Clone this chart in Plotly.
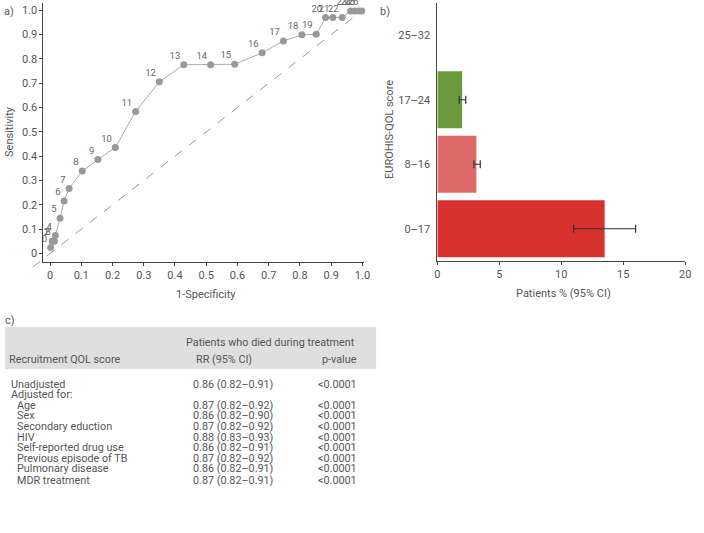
import plotly.graph_objects as go

# ---------------- data ----------------
roc_labels = [str(i) for i in range(27)]
roc_fpr = [0.002, 0.007, 0.009, 0.014, 0.017, 0.032, 0.045, 0.061, 0.103, 0.153,
           0.209, 0.274, 0.350, 0.428, 0.514, 0.591, 0.679, 0.747, 0.806, 0.852,
           0.882, 0.905, 0.935, 0.962, 0.975, 0.987, 0.998]
roc_tpr = [0.025, 0.050, 0.050, 0.050, 0.074, 0.145, 0.216, 0.267, 0.339, 0.386,
           0.436, 0.584, 0.706, 0.776, 0.776, 0.778, 0.825, 0.874, 0.899, 0.901,
           0.970, 0.970, 0.970, 0.997, 0.997, 0.997, 0.997]
roc_ticks = [0, 0.1, 0.2, 0.3, 0.4, 0.5, 0.6, 0.7, 0.8, 0.9, 1.0]
roc_ticktext = ["0", "0.1", "0.2", "0.3", "0.4", "0.5", "0.6", "0.7", "0.8", "0.9", "1.0"]

bar_categories = ["0\u201317", "8\u201316", "17\u201324", "25\u201332"]
bar_values = [13.5, 3.15, 2.0, None]
bar_ci_low = [11.0, 2.95, 1.76, None]
bar_ci_high = [16.0, 3.46, 2.29, None]
bar_colors = ["#d83230", "#de6a68", "#6b9a3c", "#cccccc"]
bar_ticks = [0, 5, 10, 15, 20]

table_header_group = "Patients who died during treatment"
table_headers = ["Recruitment QOL score", "RR (95% CI)", "p-value"]
table_rows = ["Unadjusted", "Adjusted for:", "Age", "Sex", "Secondary eduction", "HIV",
              "Self-reported drug use", "Previous episode of TB", "Pulmonary disease",
              "MDR treatment"]
table_indent = [False, False, True, True, True, True, True, True, True, True]
table_rr = ["0.86 (0.82\u20130.91)", "", "0.87 (0.82\u20130.92)", "0.86 (0.82\u20130.90)",
            "0.87 (0.82\u20130.92)", "0.88 (0.83\u20130.93)", "0.86 (0.82\u20130.91)",
            "0.87 (0.82\u20130.92)", "0.86 (0.82\u20130.91)", "0.87 (0.82\u20130.91)"]
table_p = ["<0.0001", "", "<0.0001", "<0.0001", "<0.0001", "<0.0001", "<0.0001",
           "<0.0001", "<0.0001", "<0.0001"]

# ---------------- layout helpers ----------------
W, H = 704, 533
FONT = "Roboto"
TXT = "#555555"
AXC = "#444444"


def px(x):
    return x / W


def py(y):
    return 1 - y / H


roc_xdom_px = (41, 366)
roc_ydom_px = (262, 3)
roc_xr = [-0.021, 1.006]
roc_yr = [-0.035, 1.03]

bar_xdom_px = (440, 691)
bar_ydom_px = (261, 3)


def roc_to_paper(xv, yv):
    fx = (xv - roc_xr[0]) / (roc_xr[1] - roc_xr[0])
    fy = (yv - roc_yr[0]) / (roc_yr[1] - roc_yr[0])
    xp = roc_xdom_px[0] + fx * (roc_xdom_px[1] - roc_xdom_px[0])
    yp = roc_ydom_px[0] + fy * (roc_ydom_px[1] - roc_ydom_px[0])
    return px(xp), py(yp)


fig = go.Figure()

# ROC curve (line + markers)
fig.add_trace(go.Scatter(
    x=roc_fpr, y=roc_tpr, mode="lines+markers",
    line=dict(color="#aaaaaa", width=1),
    marker=dict(color="#999999", size=7),
    cliponaxis=False, xaxis="x", yaxis="y", showlegend=False, hoverinfo="skip"))
# threshold labels (placed slightly closer to the points)
fig.add_trace(go.Scatter(
    x=roc_fpr, y=roc_tpr, text=roc_labels, mode="markers+text",
    textposition="top left",
    textfont=dict(family=FONT, size=9.5, color="#666666"),
    marker=dict(color="rgba(0,0,0,0)", size=4),
    cliponaxis=False, xaxis="x", yaxis="y", showlegend=False, hoverinfo="skip"))

# Bars
err_plus = [(h - v) if v is not None else None for v, h in zip(bar_values, bar_ci_high)]
err_minus = [(v - l) if v is not None else None for v, l in zip(bar_values, bar_ci_low)]
fig.add_trace(go.Bar(
    x=bar_values, y=bar_categories, orientation="h",
    marker=dict(color=bar_colors, line=dict(width=0)), width=0.88,
    error_x=dict(type="data", array=err_plus, arrayminus=err_minus,
                 color="#333333", thickness=1.2, width=4),
    xaxis="x2", yaxis="y2", showlegend=False, hoverinfo="skip"))

axis_common = dict(showline=True, linecolor=AXC, linewidth=1, showgrid=False,
                   zeroline=False, tickfont=dict(family=FONT, size=11, color=TXT))

fig.update_layout(
    width=W, height=H,
    margin=dict(l=0, r=0, t=0, b=0),
    paper_bgcolor="white", plot_bgcolor="white",
    font=dict(family=FONT, color=TXT),
    xaxis=dict(domain=[px(roc_xdom_px[0]), px(roc_xdom_px[1])], range=roc_xr,
               tickvals=roc_ticks, ticktext=roc_ticktext, ticks="outside", ticklen=3,
               tickcolor=AXC, anchor="y", **axis_common),
    yaxis=dict(domain=[py(roc_ydom_px[0]), py(roc_ydom_px[1])], range=roc_yr,
               tickvals=roc_ticks, ticktext=roc_ticktext, ticks="outside", ticklen=3,
               tickcolor=AXC, anchor="x", **axis_common),
    xaxis2=dict(domain=[px(bar_xdom_px[0]), px(bar_xdom_px[1])], range=[0, 20],
                tickvals=bar_ticks, ticks="outside", ticklen=3, tickcolor=AXC,
                anchor="y2", **axis_common),
    yaxis2=dict(domain=[py(bar_ydom_px[0]), py(bar_ydom_px[1])], range=[-0.5, 3.5],
                type="category", categoryorder="array", categoryarray=bar_categories,
                ticks="", ticklabelstandoff=4, anchor="x2", **axis_common),
)

shapes = []
# diagonal reference line
x0p, y0p = roc_to_paper(-0.055, -0.055)
x1p, y1p = roc_to_paper(1.0, 1.0)
shapes.append(dict(type="line", xref="paper", yref="paper", x0=x0p, y0=y0p, x1=x1p, y1=y1p,
                   line=dict(color="#999999", width=1, dash="dash"), layer="below"))
# table header band
shapes.append(dict(type="rect", xref="paper", yref="paper", x0=px(2), x1=px(378),
                   y0=py(369), y1=py(327), fillcolor="#dfdfdf", line=dict(width=0),
                   layer="below"))

ann = []


def add_text(t, x, y, xanchor="left", size=10.8, angle=0, color=TXT):
    ann.append(dict(text=t, x=px(x), y=py(y), xref="paper", yref="paper",
                    xanchor=xanchor, yanchor="middle", showarrow=False, textangle=angle,
                    borderpad=0, borderwidth=0,
                    font=dict(family=FONT, size=size, color=color)))


# panel labels
add_text("a)", 1, 12, size=11)
add_text("b)", 382, 11, size=11)
add_text("c)", 2, 320, size=11)

# axis titles
add_text("Sensitivity", 6, 131, xanchor="center", size=11, angle=-90)
add_text("1-Specificity", 206, 294, xanchor="center", size=11)
add_text("EUROHIS-QOL score", 391, 130, xanchor="center", size=11, angle=-90)
add_text("Patients % (95% CI)", 568, 293, xanchor="center", size=11)

# table
add_text(table_header_group, 271, 342, xanchor="center")
add_text(table_headers[0], 6, 359)
add_text(table_headers[1], 224, 359, xanchor="center")
add_text(table_headers[2], 359, 359, xanchor="right")
row_y = [384, 394, 405, 415.7, 426.3, 437, 447.7, 458.3, 469, 480]
for lab, ind, rr, p, yy in zip(table_rows, table_indent, table_rr, table_p, row_y):
    add_text(lab, 14 if ind else 8, yy)
    if rr:
        add_text(rr, 192, yy)
    if p:
        add_text(p, 359, yy, xanchor="right")

fig.update_layout(shapes=shapes, annotations=ann)
fig.write_html("out.html",
               config={"displayModeBar": False},
               post_script="document.body.style.margin='0px';"
                           "document.body.style.overflow='hidden';")
